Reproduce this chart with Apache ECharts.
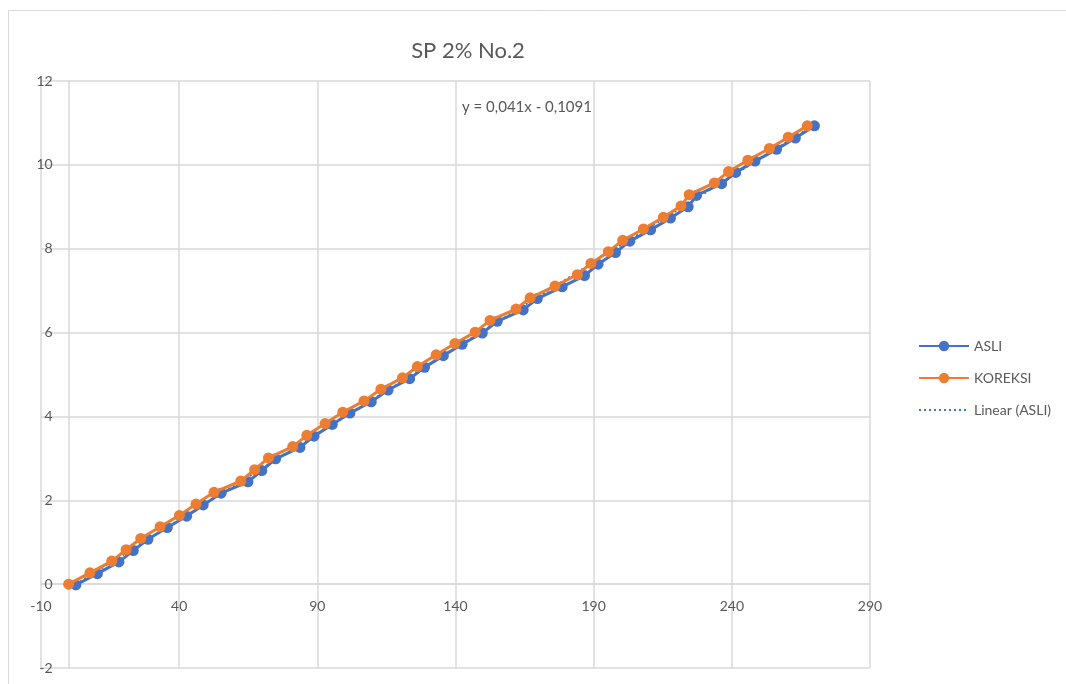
<!DOCTYPE html>
<html>
<head>
<meta charset="utf-8">
<script src="https://cdn.jsdelivr.net/npm/echarts@6/dist/echarts.min.js"></script>
<style>
html,body{margin:0;padding:0;background:#fff;}
#c{width:1066px;height:684px;}
</style>
</head>
<body>
<div id="c"></div>
<script>
var title = 'SP 2% No.2';
var seriesNames = ['ASLI', 'KOREKSI', 'Linear (ASLI)'];
var equationText = 'y = 0,041x - 0,1091';
var trendSlope = 0.041;
var trendIntercept = -0.1091;

var asliX = [2.6, 10.4, 18.2, 23.4, 28.7, 35.7, 42.7, 48.7, 55.2, 64.9, 69.9, 74.9, 83.7, 88.8, 95.4, 101.8, 109.5, 115.6, 123.4, 128.8, 135.6, 142.4, 149.7, 155.1, 164.5, 169.6, 178.6, 186.7, 191.6, 197.9, 203.1, 210.6, 217.8, 224.2, 227.2, 236.3, 241.4, 248.4, 256.2, 263.0, 269.9];
var asliY = [-0.02, 0.25, 0.53, 0.80, 1.07, 1.35, 1.62, 1.89, 2.17, 2.44, 2.71, 2.99, 3.26, 3.53, 3.81, 4.08, 4.35, 4.63, 4.90, 5.17, 5.45, 5.72, 5.99, 6.27, 6.54, 6.81, 7.09, 7.36, 7.63, 7.91, 8.18, 8.45, 8.73, 9.00, 9.27, 9.55, 9.82, 10.09, 10.37, 10.64, 10.93];

var koreksiX = [0, 7.7, 15.6, 20.8, 26.1, 33.1, 40.1, 46.1, 52.6, 62.3, 67.3, 72.3, 81.1, 86.2, 92.8, 99.2, 106.9, 113.0, 120.8, 126.2, 133.0, 139.8, 147.1, 152.5, 161.9, 167.0, 176.0, 184.1, 189.0, 195.3, 200.5, 208.0, 215.2, 221.6, 224.6, 233.7, 238.8, 245.8, 253.6, 260.4, 267.3];
var koreksiY = [0, 0.27, 0.55, 0.82, 1.09, 1.37, 1.64, 1.91, 2.19, 2.46, 2.73, 3.01, 3.28, 3.55, 3.83, 4.10, 4.37, 4.65, 4.92, 5.19, 5.47, 5.74, 6.01, 6.29, 6.56, 6.83, 7.11, 7.38, 7.65, 7.93, 8.20, 8.47, 8.75, 9.02, 9.29, 9.57, 9.84, 10.11, 10.39, 10.66, 10.93];

var xMin = -10, xMax = 290, xStep = 50;
var yMin = -2, yMax = 12, yStep = 2;

function pairs(xs, ys){ return xs.map(function(x,i){ return [x, ys[i]]; }); }
var xLo = Math.min.apply(null, asliX), xHi = Math.max.apply(null, asliX);
var trendData = [[xLo, trendSlope*xLo + trendIntercept], [xHi, trendSlope*xHi + trendIntercept]];

var FONT = 'Lato, "Open Sans", sans-serif';
var TXT = '#595959';
var GRID = '#d9d9d9';

var gridLeft = 41, gridRight = 196, gridTop = 81, gridBottom = 16;
var plotW = 1066 - gridLeft - gridRight, plotH = 684 - gridTop - gridBottom;
// axes cross at zero: shift axes from grid edges to the zero position
var yAxisOffset = -plotW * (0 - xMin) / (xMax - xMin);
var xAxisOffset = -plotH * (0 - yMin) / (yMax - yMin);

var chart = echarts.init(document.getElementById('c'), null, {renderer:'canvas'});
chart.setOption({
  animation: false,
  backgroundColor: '#ffffff',
  title: {
    text: title, left: 463, top: 35, textAlign: 'center',
    textStyle: {fontFamily: FONT, fontSize: 22, fontWeight: 'normal', color: TXT}
  },
  legend: {
    orient: 'vertical', left: 913, top: 334,
    itemWidth: 50, itemHeight: 13, itemGap: 18,
    textStyle: {fontFamily: FONT, fontSize: 14, color: TXT},
    data: [
      {name: seriesNames[0]},
      {name: seriesNames[1]},
      {name: seriesNames[2], itemStyle: {opacity: 0}}
    ]
  },
  grid: {left: gridLeft, right: gridRight, top: gridTop, bottom: gridBottom, containLabel: false},
  xAxis: {
    type: 'value', min: xMin, max: xMax, interval: xStep, offset: xAxisOffset,
    axisLine: {show: true, onZero: false, lineStyle: {color: GRID, width: 1.5}},
    axisTick: {show: false},
    axisLabel: {fontFamily: FONT, fontSize: 14, color: TXT, margin: 15},
    splitLine: {show: true, lineStyle: {color: GRID, width: 1.5}}
  },
  yAxis: {
    type: 'value', min: yMin, max: yMax, interval: yStep, offset: yAxisOffset,
    axisLine: {show: true, onZero: false, lineStyle: {color: GRID, width: 1.5}},
    axisTick: {show: false},
    axisLabel: {fontFamily: FONT, fontSize: 14, color: TXT, margin: 16},
    splitLine: {show: true, lineStyle: {color: GRID, width: 1.5}}
  },
  graphic: [
    {type: 'rect', silent: true, z: -10, shape: {x: 8.5, y: 10.5, width: 1100, height: 700}, style: {fill: 'none', stroke: GRID, lineWidth: 1}},
    {type: 'text', left: 462, top: 100, style: {text: equationText, fontFamily: FONT, fontSize: 15, fill: TXT}}
  ],
  series: [
    {
      name: seriesNames[0], type: 'line', data: pairs(asliX, asliY),
      symbol: 'circle', symbolSize: 11, z: 3,
      itemStyle: {color: '#4472C4'}, lineStyle: {color: '#4472C4', width: 3}
    },
    {
      name: seriesNames[2], type: 'line', data: trendData,
      symbol: 'none', z: 4,
      itemStyle: {color: '#4472C4'}, lineStyle: {color: '#4472C4', width: 2, type: [2, 3]}
    },
    {
      name: seriesNames[1], type: 'line', data: pairs(koreksiX, koreksiY),
      symbol: 'circle', symbolSize: 11, z: 5,
      itemStyle: {color: '#ED7D31'}, lineStyle: {color: '#ED7D31', width: 3}
    }
  ]
});
</script>
</body>
</html>
